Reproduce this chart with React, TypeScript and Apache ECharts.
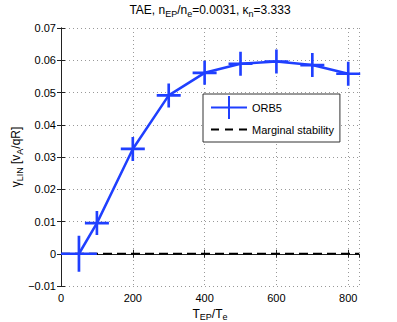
import React, { useEffect, useRef } from "react";
import * as echarts from "echarts";

const tepRatio = [50, 100, 200, 300, 400, 500, 600, 700, 800];
const gammaLin = [0, 0.0095, 0.0325, 0.0491, 0.0561, 0.0589, 0.0596, 0.0585, 0.0558];
const marginX = [0, 830];
const marginY = [0, 0];
const seriesNames = ["ORB5", "Marginal stability"];

const BLUE = "#1f3fff";
const FONT = "Liberation Sans";
const PLUS = "path://M-0.11,-1H0.11V-0.11H1V0.11H0.11V1H-0.11V0.11H-1V-0.11H-0.11Z";
const PLUS_BIG = "path://M-0.075,-1H0.075V-0.075H1V0.075H0.075V1H-0.075V0.075H-1V-0.075H-0.075Z";
const LEG_PLUS = "path://M0,10.5H36V12.5H0Z M17,0H19V23H17Z";
const LEG_DASH = "path://M0,10.5H8V12.5H0Z M14,10.5H22V12.5H14Z M28,10.5H36V12.5H28Z M18,0L18.01,0L18,0.01Z M18,23L18.01,23L18,22.99Z";

export default function App() {
  const ref = useRef<HTMLDivElement>(null);
  useEffect(() => {
    const chart = echarts.init(ref.current!, null, { renderer: "svg" });
    const sub = { fontSize: 9, fontFamily: FONT, fontWeight: "normal", color: "#000", verticalAlign: "bottom", lineHeight: 17 };
    const main = { fontSize: 12, fontFamily: FONT, fontWeight: "normal", color: "#000", lineHeight: 13 };
    const xsub = { ...sub, lineHeight: 15 };
    const xmain = { ...main, lineHeight: 11 };
    chart.setOption({
      animation: false,
      backgroundColor: "#fff",
      title: {
        text: "{m|TAE, n}{s|EP}{m|/n}{s|e}{m|=0.0031, κ}{s|n}{m|=3.333}",
        left: 210,
        top: 1,
        padding: 0,
        textAlign: "center",
        textStyle: { fontWeight: "normal", rich: { m: main, s: sub } },
      },
      grid: { left: 61, right: 38, top: 28, bottom: 36, outerBoundsMode: "none", containLabel: false },
      legend: {
        orient: "vertical",
        left: 203,
        top: 94,
        padding: [2, 6, 1, 8],
        itemGap: -1,
        itemWidth: 36,
        itemHeight: 23,
        backgroundColor: "#fff",
        borderColor: "#333",
        borderWidth: 1,
        borderRadius: 0,
        textStyle: { fontSize: 11, fontFamily: FONT, color: "#000" },
        data: [
          { name: seriesNames[0], icon: LEG_PLUS },
          { name: seriesNames[1], icon: LEG_DASH },
        ],
      },
      xAxis: [
        {
          type: "value",
          min: 0,
          max: 830,
          interval: 200,
          name: "{m|T}{s|EP}{m|/T}{s|e}",
          nameLocation: "middle",
          nameGap: 20,
          nameMoveOverlap: false,
          nameTextStyle: { verticalAlign: "top", rich: { m: xmain, s: xsub } },
          axisLine: { lineStyle: { color: "#222", width: 1 } },
          axisTick: { inside: true, length: 4, lineStyle: { color: "#222" } },
          axisLabel: { showMaxLabel: false, fontSize: 11, fontFamily: FONT, color: "#000", margin: 6 },
          splitLine: { show: true, lineStyle: { color: "#999", type: [1, 3], width: 1 } },
        },
        {
          type: "value",
          position: "top",
          min: 0,
          max: 830,
          interval: 200,
          axisLine: { show: true, lineStyle: { color: "#222", width: 1 } },
          axisTick: { show: true, inside: true, length: 4, lineStyle: { color: "#222" } },
          axisLabel: { show: false },
          splitLine: { show: false },
        },
      ],
      yAxis: [
        {
          type: "value",
          min: -0.01,
          max: 0.07,
          interval: 0.01,
          name: "{m|γ}{s|LIN}{m| [v}{s|A}{m|/qR]}",
          nameLocation: "middle",
          nameRotate: 90,
          nameGap: 37,
          nameMoveOverlap: false,
          nameTextStyle: { rich: { m: main, s: sub } },
          axisLine: { lineStyle: { color: "#222", width: 1 } },
          axisTick: { inside: true, length: 4, lineStyle: { color: "#222" } },
          axisLabel: {
            fontSize: 11,
            fontFamily: FONT,
            color: "#000",
            margin: 5,
            formatter: (v: number) => (Math.abs(v) < 1e-9 ? "0" : (v < 0 ? "−" : "") + Math.abs(v).toFixed(2)),
          },
          splitLine: { show: true, lineStyle: { color: "#999", type: [1, 3], width: 1 } },
        },
        {
          type: "value",
          position: "right",
          min: -0.01,
          max: 0.07,
          interval: 0.01,
          axisLine: { show: true, lineStyle: { color: "#222", width: 1 } },
          axisTick: { show: true, inside: true, length: 4, lineStyle: { color: "#222" } },
          axisLabel: { show: false },
          splitLine: { show: false },
        },
      ],
      series: [
        {
          name: seriesNames[0],
          type: "line",
          z: 3,
          data: tepRatio.map((x, i) => ({
            value: [x, gammaLin[i]],
            symbolSize: i === 0 ? 36 : 24,
            symbol: i === 0 ? PLUS_BIG : PLUS,
          })),
          symbol: PLUS,
          symbolKeepAspect: true,
          showAllSymbol: true,
          itemStyle: { color: BLUE },
          lineStyle: { color: BLUE, width: 2.5 },
          clip: false,
        },
        {
          name: seriesNames[1],
          type: "line",
          z: 2,
          data: marginX.map((x, i) => [x, marginY[i]]),
          symbol: "none",
          itemStyle: { color: "#000" },
          lineStyle: { color: "#000", width: 2, type: [9, 5] },
        },
      ],
    });
    return () => chart.dispose();
  }, []);
  return <div ref={ref} style={{ width: 397, height: 322, position: "absolute", left: 0, top: 0 }} />;
}
